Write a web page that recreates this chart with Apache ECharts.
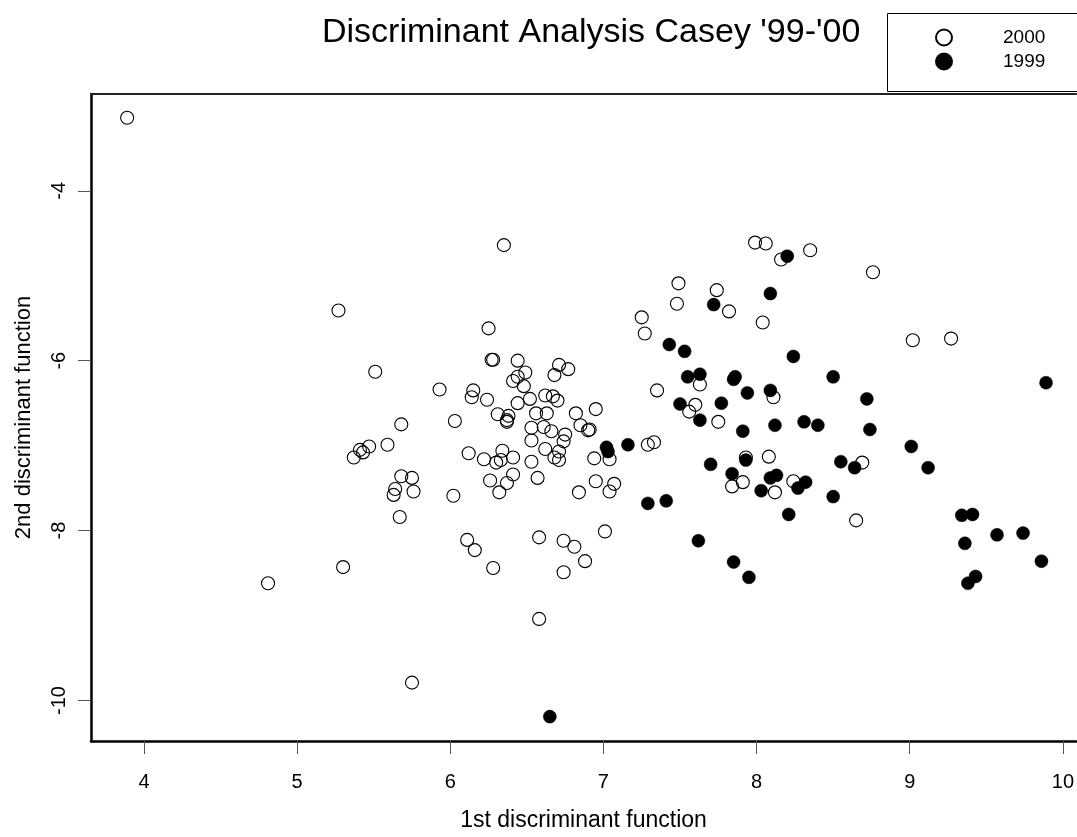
<!DOCTYPE html>
<html>
<head>
<meta charset="utf-8">
<title>Discriminant Analysis Casey '99-'00</title>
<script src="https://cdn.jsdelivr.net/npm/echarts@6.0.0/dist/echarts.min.js"></script>
<style>
    html, body { margin: 0; padding: 0; background: #fff; }
    #chart { width: 1077px; height: 837px; }
</style>
</head>
<body>
<div id="chart"></div>
<script>
'use strict';

// 坐标轴刻度
const xTicks = [4, 5, 6, 7, 8, 9, 10];
const yTicks = [-10, -8, -6, -4];

// 2000 年 (空心圆)
const year2000 = [
    [3.89, -3.14], [6.35, -4.64], [5.27, -5.41], [6.25, -5.62], [6.27, -5.99], [6.28, -5.99],
    [6.44, -6.00], [5.51, -6.13], [6.44, -6.19], [6.49, -6.14], [6.41, -6.24], [6.48, -6.30],
    [5.93, -6.34], [6.15, -6.35], [6.14, -6.43], [6.24, -6.46], [6.44, -6.50], [6.52, -6.45],
    [6.71, -6.05], [6.77, -6.10], [6.68, -6.17], [6.62, -6.41], [6.67, -6.42], [6.70, -6.47],
    [6.95, -6.57], [6.31, -6.63], [6.38, -6.65], [6.37, -6.70], [6.37, -6.72], [6.56, -6.62],
    [6.63, -6.62], [6.82, -6.62], [6.03, -6.71], [5.68, -6.75], [6.53, -6.79], [6.61, -6.78],
    [6.66, -6.83], [6.85, -6.76], [6.90, -6.82], [6.91, -6.81], [6.75, -6.87], [6.74, -6.95],
    [6.53, -6.94], [5.59, -6.99], [5.47, -7.01], [5.41, -7.05], [5.43, -7.08], [5.37, -7.14],
    [6.12, -7.09], [6.34, -7.06], [6.22, -7.16], [6.30, -7.20], [6.33, -7.17], [6.41, -7.14],
    [6.53, -7.19], [6.62, -7.04], [6.71, -7.07], [6.68, -7.14], [6.71, -7.17], [6.94, -7.15],
    [7.04, -7.16], [5.68, -7.36], [5.75, -7.38], [5.64, -7.51], [5.63, -7.58], [5.76, -7.54],
    [6.02, -7.59], [6.26, -7.41], [6.41, -7.34], [6.37, -7.44], [6.32, -7.55], [6.57, -7.38],
    [6.95, -7.42], [7.07, -7.45], [7.04, -7.54], [6.84, -7.55], [5.67, -7.84], [7.01, -8.01],
    [6.11, -8.11], [6.16, -8.23], [6.58, -8.08], [6.74, -8.12], [6.81, -8.19], [6.88, -8.36],
    [6.28, -8.44], [6.74, -8.49], [5.30, -8.43], [4.81, -8.62], [6.58, -9.04], [5.75, -9.79],
    [7.99, -4.61], [8.06, -4.62], [8.16, -4.81], [8.35, -4.70], [8.76, -4.96], [7.49, -5.09],
    [7.74, -5.17], [7.48, -5.33], [7.82, -5.42], [8.04, -5.55], [7.25, -5.49], [7.27, -5.68],
    [7.63, -6.28], [8.11, -6.43], [7.35, -6.35], [7.60, -6.52], [7.56, -6.60], [7.75, -6.72],
    [7.29, -6.99], [7.33, -6.96], [7.93, -7.14], [8.08, -7.13], [7.91, -7.43], [7.84, -7.48],
    [8.12, -7.55], [8.24, -7.42], [8.69, -7.20], [8.65, -7.88], [9.02, -5.76], [9.27, -5.74]
];

// 1999 年 (实心圆)
const year1999 = [
    [7.02, -7.02], [7.03, -7.07], [7.16, -6.99], [7.43, -5.81], [7.53, -5.89], [7.55, -6.19],
    [7.63, -6.16], [7.86, -6.19], [7.85, -6.22], [7.94, -6.38], [8.09, -6.35], [7.50, -6.51],
    [7.63, -6.70], [7.77, -6.50], [7.91, -6.83], [8.12, -6.76], [8.09, -5.21], [7.72, -5.34],
    [8.20, -4.77], [8.24, -5.95], [8.50, -6.19], [8.72, -6.45], [8.31, -6.72], [8.40, -6.76],
    [8.74, -6.81], [9.89, -6.26], [7.70, -7.22], [7.93, -7.17], [7.84, -7.33], [8.03, -7.53],
    [8.09, -7.38], [8.13, -7.35], [8.32, -7.43], [8.27, -7.50], [8.55, -7.19], [8.64, -7.26],
    [8.50, -7.60], [8.21, -7.81], [7.29, -7.68], [7.41, -7.65], [7.62, -8.12], [7.85, -8.37],
    [7.95, -8.55], [9.01, -7.01], [9.12, -7.26], [9.34, -7.82], [9.41, -7.81], [9.57, -8.05],
    [9.74, -8.03], [9.36, -8.15], [9.86, -8.36], [9.43, -8.54], [9.38, -8.62], [6.65, -10.19]
];

const FONT = "'Liberation Sans', Arial, sans-serif";

// 轴范围 (右侧框线在画面外)
const X_MIN = 3.654, X_MAX = 10.086;
const Y_MIN = -10.477, Y_MAX = -2.861;

const myChart = echarts.init(document.getElementById('chart'), null, { renderer: 'canvas' });

const option = {
    animation: false,
    backgroundColor: '#fff',
    textStyle: { fontFamily: FONT, color: '#000' },
    title: {
        text: "Discriminant Analysis Casey '99-'00",
        left: 317,
        top: 11,
        textStyle: { fontFamily: FONT, fontSize: 34, fontWeight: 'normal', color: '#000' }
    },
    legend: {
        orient: 'vertical',
        left: 930,
        top: 23,
        itemWidth: 108,
        itemHeight: 16,
        itemGap: 5,
        data: ['2000', '1999'],
        textStyle: { fontFamily: FONT, fontSize: 19, color: '#000' }
    },
    graphic: [{
        type: 'rect',
        shape: { x: 887.5, y: 13.5, width: 220, height: 78 },
        style: { fill: 'none', stroke: '#000', lineWidth: 1 },
        z: 10
    }],
    grid: {
        left: 91,
        top: 94,
        right: 0,
        bottom: 88,
        containLabel: false,
        show: false
    },
    xAxis: [
        {
            type: 'value',
            min: X_MIN,
            max: X_MAX,
            name: '1st discriminant function',
            nameLocation: 'middle',
            nameGap: 68,
            nameTextStyle: { fontFamily: FONT, fontSize: 23, color: '#000' },
            axisLine: { show: true, onZero: false, lineStyle: { color: '#000', width: 2.5 } },
            axisTick: { show: true, customValues: xTicks, length: 13, lineStyle: { color: '#555', width: 1 } },
            axisLabel: { customValues: xTicks, margin: 31, fontFamily: FONT, fontSize: 20, color: '#000' },
            splitLine: { show: false }
        },
        {
            // 顶部框线
            type: 'value',
            position: 'top',
            min: X_MIN,
            max: X_MAX,
            axisLine: { show: true, onZero: false, lineStyle: { color: '#222', width: 2 } },
            axisTick: { show: false },
            axisLabel: { show: false },
            splitLine: { show: false }
        }
    ],
    yAxis: {
        type: 'value',
        min: Y_MIN,
        max: Y_MAX,
        name: '2nd discriminant function',
        nameLocation: 'middle',
        nameGap: 56,
        nameTextStyle: { fontFamily: FONT, fontSize: 22, color: '#000' },
        axisLine: { show: true, onZero: false, lineStyle: { color: '#000', width: 2.5 } },
        axisTick: { show: true, customValues: yTicks, length: 13, lineStyle: { color: '#555', width: 1 } },
        axisLabel: { customValues: yTicks, rotate: 90, margin: 22, fontFamily: FONT, fontSize: 20, color: '#000' },
        splitLine: { show: false }
    },
    series: [
        {
            name: '2000',
            type: 'scatter',
            symbol: 'circle',
            symbolSize: 13,
            data: year2000,
            itemStyle: { color: 'rgba(255,255,255,0)', borderColor: '#000', borderWidth: 1.1, opacity: 1 }
        },
        {
            name: '1999',
            type: 'scatter',
            symbol: 'circle',
            symbolSize: 13,
            data: year1999,
            itemStyle: { color: '#000', borderColor: '#000', borderWidth: 0.5, opacity: 1 }
        }
    ]
};

myChart.setOption(option);
</script>
</body>
</html>
